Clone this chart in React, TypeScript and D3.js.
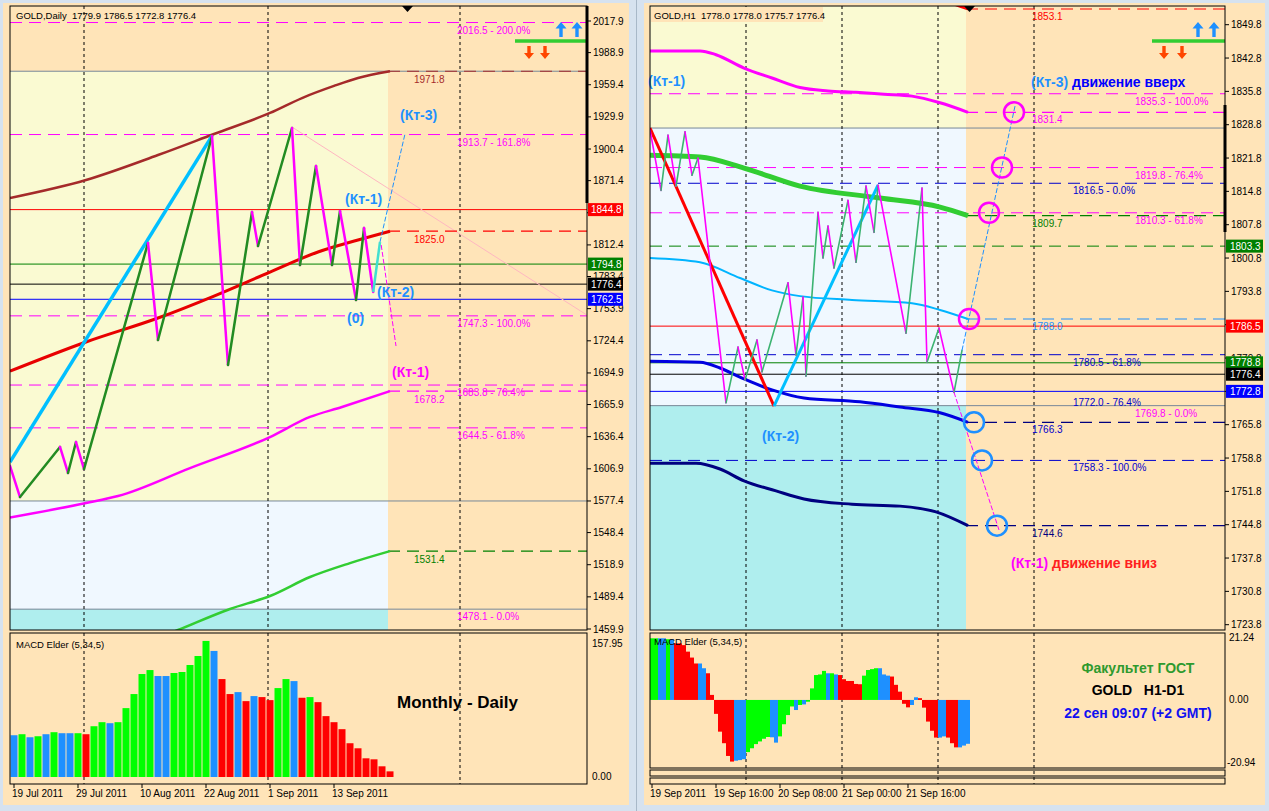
import React from "react";
import * as d3 from "d3";

// ================= LEFT : GOLD Daily =================
const leftTicks = [2017.9, 1988.9, 1959.4, 1929.9, 1900.4, 1871.4, 1841.9, 1812.4, 1783.4, 1753.9, 1724.4, 1694.9, 1665.9, 1636.4, 1606.9, 1577.4, 1548.4, 1518.9, 1489.4, 1459.9];
const leftDates = ["19 Jul 2011", "29 Jul 2011", "10 Aug 2011", "22 Aug 2011", "1 Sep 2011", "13 Sep 2011"];
const leftDateBars = [0, 8, 16, 24, 32, 40];
const leftSeparators = [8.75, 31.75, 55.75];
const leftMacd = [
  49.6, 50.8, 47.2, 48.4, 50.8, 53.2, 52.0, 52.0, 52.0, 50.8,
  60.3, 65.1, 63.9, 65.1, 81.8, 98.5, 122.3, 127.0, 119.9, 119.9,
  123.5, 124.7, 133.0, 143.7, 161.6, 149.7, 116.3, 98.5, 100.8, 90.1,
  96.1, 94.9, 91.3, 105.6, 116.3, 113.9, 94.1, 94.9, 88.9, 72.3,
  65.1, 56.8, 40.1, 34.1, 22.2, 21.0, 12.7, 6.7,
];
const leftMacdColors = "bgbgbgbbgrggbgggggbbgggggbrrbrbrrggbrgrrrrrrrrrr";
const leftMaBrown = [[-0.5, 1855.5], [9, 1872.0], [18, 1894.9], [25, 1914.2], [32, 1933.5], [36, 1947.2], [40, 1958.3], [43, 1965.6], [47, 1971.8]];
const leftMaRed = [[-0.5, 1696.5], [9, 1723.3], [18, 1745.3], [25, 1765.5], [32, 1787.5], [38, 1805.9], [43, 1816.9], [47, 1825.0]];
const leftMaMagenta = [[-0.5, 1562.2], [9, 1575.5], [13, 1581.9], [22, 1607.6], [32, 1636.1], [37, 1654.5], [41, 1663.7], [47, 1678.2]];
const leftMaGreen = [[14, 1440.0], [20.5, 1459.0], [27, 1478.3], [32, 1490.2], [37, 1507.6], [42, 1520.4], [47, 1531.4]];
const leftTrendCyan = [[-0.5, 1613.2], [24.75, 1912.4]];
const leftZigzag = [
  [-0.5, 1609.5], [0.75, 1581.0], [5.75, 1627.0], [6.75, 1603.1], [7.75, 1631.5], [8.75, 1606.7],
  [16.75, 1814.2], [18, 1725.1], [24.75, 1912.4], [26.75, 1702.2], [29.75, 1842.6], [30.5, 1811.4],
  [34.75, 1919.7], [35.75, 1793.9], [37.75, 1884.8], [39.75, 1793.9], [40.75, 1843.5], [42.75, 1761.8],
  [43.75, 1827.9], [44.9, 1769.2],
];
const leftKt2Leg = [[44.9, 1769.2], [45.75, 1815.1]];
const leftProjUp = [[45.75, 1815.1], [48.9, 1915.1]];
const leftProjDown = [[45.9, 1812.3], [47.75, 1719.6]];
const leftPinkRay = [[34.75, 1920.6], [71.6, 1748.1]];
const leftFibLines = [2016.5, 1913.7, 1747.3, 1683.8, 1644.5];
const leftFibLabelPrices = [2016.5, 1913.7, 1747.3, 1683.8, 1644.5, 1478.1];
const leftFibPct = ["200.0%", "161.8%", "100.0%", "76.4%", "61.8%", "0.0%"];
const leftZoneEdges = [1971.8, 1577.4, 1478.1];
const leftMarks = [1844.8, 1794.8, 1776.4, 1762.5];
const leftMarkColors = ["#FF0000", "#008000", "#000000", "#0000FF"];
const leftMacdTicks = [157.95, 0.0];

// ================= RIGHT : GOLD H1 =================
const rightTicks = [1849.8, 1842.8, 1835.8, 1828.8, 1821.8, 1814.8, 1807.8, 1800.8, 1793.8, 1786.8, 1779.8, 1772.8, 1765.8, 1758.8, 1751.8, 1744.8, 1737.8, 1730.8, 1723.8];
const rightDates = ["19 Sep 2011", "19 Sep 16:00", "20 Sep 08:00", "21 Sep 00:00", "21 Sep 16:00"];
const rightDateBars = [0, 16, 32, 48, 64];
const rightSeparators = [23.5, 47.5, 71.5, 95.5];
const rightMacd = [
  20.8, 20.8, 20.8, 20.8, 20.5, 20.5, 19.1, 19.1, 18.5, 16.3,
  14.3, 12.3, 12.3, 10.7, 9.0, 1.7, -4.7, -10.7, -14.6, -18.9,
  -20.8, -20.5, -20.3, -20.0, -17.6, -16.3, -14.9, -14.0, -13.1, -12.5,
  -12.6, -14.4, -12.3, -8.2, -5.1, -2.2, -3.4, -1.7, -1.5, -0.6,
  3.9, 8.4, 8.6, 9.8, 9.0, 9.0, 8.6, 8.4, 7.0, 6.4,
  6.4, 5.4, 5.3, 8.2, 10.1, 10.4, 10.7, 10.7, 8.6, 8.2,
  7.9, 5.1, 2.8, -1.3, -2.5, -1.7, 0.9, 0.6, -2.6, -7.3,
  -10.4, -12.7, -12.7, -12.3, -12.7, -14.6, -16.0, -16.0, -15.4, -14.8,
];
const rightMacdColors = "ggbbgbrrrrrrbbrrrrrrrbbbggggggbbggggbgbgggggbgbrrrrrrggggbbbrrrrrbbrrrrrbbrrrbbb";
const rightMacdTicks = [21.24, 0.0, -20.94];
const rightMaRed = [[60, 1860.0], [70, 1856.0], [75, 1854.3], [79, 1853.1]];
const rightMaMagenta = [[-0.5, 1844.3], [12, 1844.3], [16, 1843.5], [23, 1840.7], [30, 1838.6], [37, 1836.6], [44, 1835.9], [51, 1835.6], [58, 1835.2], [65, 1834.8], [72, 1833.4], [79, 1831.4]];
const rightMaGreen = [[-0.5, 1822.4], [12, 1822.0], [23, 1819.7], [37, 1815.9], [57, 1813.4], [72, 1811.5], [79, 1809.7]];
const rightMaSky = [[-0.5, 1800.8], [12, 1799.9], [22, 1796.6], [30, 1794.0], [37, 1792.8], [50, 1792.0], [65, 1791.3], [72, 1789.9], [79, 1788.0]];
const rightMaBlue = [[-0.5, 1779.1], [12, 1778.9], [17, 1777.7], [23, 1775.4], [30, 1773.1], [38, 1771.4], [52, 1770.6], [62, 1769.5], [72, 1768.3], [79, 1766.3]];
const rightMaNavy = [[-0.5, 1757.7], [11, 1757.7], [17, 1756.5], [23, 1754.0], [31, 1751.9], [38, 1750.2], [50, 1749.1], [62, 1748.7], [71, 1747.5], [79, 1744.6]];
const rightTrendRed = [[-0.5, 1828.1], [30.5, 1769.7]];
const rightTrendCyan = [[30.5, 1769.7], [56.5, 1816.1]];
const rightZigzag = [
  [-0.5, 1827.7], [2.25, 1815.0], [4, 1826.6], [6, 1815.9], [8.25, 1827.3], [10, 1818.2], [11.5, 1821.8],
  [18.5, 1770.4], [21.5, 1782.1], [23.25, 1775.2], [26.25, 1783.6], [27.5, 1776.9], [34, 1795.6], [36, 1780.4],
  [37.75, 1792.6], [38.5, 1776.0], [41.5, 1810.4], [42.75, 1800.8], [44, 1807.5], [45.5, 1798.7], [49, 1812.9],
  [51, 1799.9], [53.5, 1815.9], [55.5, 1806.2], [56.5, 1816.1], [63.5, 1785.0], [67.5, 1815.5], [68.75, 1778.9],
  [71.75, 1786.1], [75.5, 1772.6], [77.5, 1781.4],
];
const rightProjUp = [[77.5, 1781.4], [90.75, 1832.7]];
const rightProjDown = [[75.5, 1772.6], [86.75, 1743.7]];
const rightUpCircleBars = [90.5, 87.5, 84.25, 79.25];
const rightUpCirclePrices = [1831.4, 1819.8, 1810.3, 1788.0];
const rightDownCircleBars = [80.5, 82.5, 86.25];
const rightDownCirclePrices = [1766.3, 1758.3, 1744.6];
const rightMagFibPrices = [1835.3, 1819.8, 1810.3, 1769.8];
const rightMagFibPct = ["100.0%", "76.4%", "61.8%", "0.0%"];
const rightMagFibLines = [1835.3, 1819.8, 1810.3];
const rightBlueFibPrices = [1816.5, 1780.5, 1772.0, 1758.3];
const rightBlueFibPct = ["0.0%", "61.8%", "76.4%", "100.0%"];
const rightBlueFibLines = [1816.5, 1780.5, 1758.3];
const rightZoneEdges = [1828.1, 1769.8];
const rightMarks = [1803.3, 1786.5, 1778.8, 1776.4, 1772.8];
const rightMarkColors = ["#008000", "#FF0000", "#008000", "#000000", "#0000FF"];
const rightMarkDashed = [1803.3];

const PEACH = "#FFE4B8";
const YELLOW = "#FAFAD2";
const ALICE = "#F0F8FF";
const TURQ = "#AFEEEE";
const ZONE_LINE = "#778899";
const FONT = "'Liberation Sans', Arial, Helvetica, sans-serif";
const DASH = "12,7";
const MACD_COL: Record<string, string> = { g: "#00FF00", b: "#1E90FF", r: "#FF0000" };
const PRE: React.CSSProperties = { whiteSpace: "pre" };

type P = number[];

function Zig({ pts, x, y, up, down, w }: { pts: P[]; x: any; y: any; up: string; down: string; w: number }) {
  return (
    <g>
      {pts.slice(1).map((p, k) => {
        const a = pts[k];
        const isUp = p[1] > a[1];
        return (
          <line key={k} x1={x(a[0])} y1={y(a[1])} x2={x(p[0])} y2={y(p[1])}
            stroke={isUp ? up : down} strokeWidth={w} strokeLinecap="round" />
        );
      })}
    </g>
  );
}

function UpArrow({ cx, top, color }: { cx: number; top: number; color: string }) {
  const d = `M${cx},${top} L${cx + 5.5},${top + 6.5} L${cx + 1.7},${top + 6.5} L${cx + 1.7},${top + 15} L${cx - 1.7},${top + 15} L${cx - 1.7},${top + 6.5} L${cx - 5.5},${top + 6.5} Z`;
  return <path d={d} fill={color} />;
}
function DownArrow({ cx, top, color }: { cx: number; top: number; color: string }) {
  const b = top + 13;
  const d = `M${cx},${b} L${cx + 5},${b - 6} L${cx + 1.7},${b - 6} L${cx + 1.7},${top} L${cx - 1.7},${top} L${cx - 1.7},${b - 6} L${cx - 5},${b - 6} Z`;
  return <path d={d} fill={color} />;
}

export default function App() {
  const TOP = 6;
  const LX0 = 10, LX1 = 587, LBOT = 630, LMTOP = 633, LMBOT = 784, LNOW = 388;
  const RX0 = 650, RX1 = 1225, RBOT = 630, RMTOP = 633, RMBOT = 768, RNOW = 966;

  const yL = d3.scaleLinear().domain([1459.9, 2017.9]).range([629, 21]);
  const xL = d3.scaleLinear().domain([0, 1]).range([14, 22]);
  const yR = d3.scaleLinear().domain([1723.8, 1849.8]).range([624.7, 24.7]);
  const xR = d3.scaleLinear().domain([0, 1]).range([652, 656]);
  const mL = d3.scaleLinear().domain([0, 157.95]).range([777, 644]);
  const mR = d3.scaleLinear().domain([-20.94, 21.24]).range([762, 637]);

  const lineL = d3.line<P>().x((d) => xL(d[0])).y((d) => yL(d[1])).curve(d3.curveMonotoneX);
  const lineR = d3.line<P>().x((d) => xR(d[0])).y((d) => yR(d[1])).curve(d3.curveMonotoneX);
  const segL = d3.line<P>().x((d) => xL(d[0])).y((d) => yL(d[1]));
  const segR = d3.line<P>().x((d) => xR(d[0])).y((d) => yR(d[1]));

  const leftMAs = [
    { data: leftMaBrown, color: "#A52A2A", w: 2.5 },
    { data: leftMaRed, color: "#E80000", w: 3 },
    { data: leftMaMagenta, color: "#FF00FF", w: 2.5 },
    { data: leftMaGreen, color: "#32CD32", w: 2.5 },
  ];
  const leftMaLabelColors = ["#A52A2A", "#FF0000", "#FF00FF", "#008000"];
  const rightMAs = [
    { data: rightMaRed, color: "#FF0000", w: 3, lab: "#FF0000" },
    { data: rightMaMagenta, color: "#FF00FF", w: 3, lab: "#FF00FF" },
    { data: rightMaGreen, color: "#32CD32", w: 5, lab: "#008000" },
    { data: rightMaSky, color: "#00B4FF", w: 2, lab: "#1E90FF" },
    { data: rightMaBlue, color: "#0000E0", w: 3, lab: "#0000CD" },
    { data: rightMaNavy, color: "#000080", w: 3, lab: "#000080" },
  ];
  const rightMaLineColors = ["#FF0000", "#FF00FF", "#008000", "#1E90FF", "#000080", "#000080"];

  const lz = leftZoneEdges.map((p) => yL(p));
  const rz = rightZoneEdges.map((p) => yR(p));

  return (
    <svg width={1269} height={811} style={{ position: "absolute", left: 0, top: 0, display: "block" }} fontFamily={FONT}>
      <defs>
        <clipPath id="clipL"><rect x={LX0} y={TOP} width={LX1 - LX0} height={LBOT - TOP} /></clipPath>
        <clipPath id="clipR"><rect x={RX0} y={TOP} width={RX1 - RX0} height={RBOT - TOP} /></clipPath>
      </defs>
      <rect x={0} y={0} width={1269} height={811} fill="#D6E2EF" />
      <rect x={3} y={3} width={626} height={802} fill={PEACH} />
      <rect x={644} y={3} width={621} height={802} fill={PEACH} />
      <line x1={636.5} x2={636.5} y1={0} y2={811} stroke="#A8B8C8" />

      {/* ================= LEFT MAIN ================= */}
      <g clipPath="url(#clipL)">
        <rect x={LX0} y={lz[0]} width={LNOW - LX0} height={lz[1] - lz[0]} fill={YELLOW} />
        <rect x={LX0} y={lz[1]} width={LNOW - LX0} height={lz[2] - lz[1]} fill={ALICE} />
        <rect x={LX0} y={lz[2]} width={LNOW - LX0} height={LBOT - lz[2]} fill={TURQ} />
        {lz.map((y, k) => <line key={k} x1={LX0} x2={LX1} y1={y} y2={y} stroke={ZONE_LINE} strokeWidth={1} />)}
        {leftSeparators.map((s, k) => (
          <line key={k} x1={xL(s)} x2={xL(s)} y1={TOP} y2={LBOT} stroke="#000" strokeDasharray="3,3" />
        ))}
        {leftFibLines.map((p, k) => (
          <line key={k} x1={LX0} x2={LX1} y1={yL(p)} y2={yL(p)} stroke="#FF00FF" strokeDasharray={DASH} />
        ))}
        {leftMarks.map((p, k) => (
          <line key={k} x1={LX0} x2={LX1} y1={yL(p)} y2={yL(p)} stroke={leftMarkColors[k]} strokeWidth={1} />
        ))}
        <path d={segL(leftPinkRay) || ""} stroke="#FFB6C1" strokeWidth={1} fill="none" />
        {leftMAs.map((m, k) => {
          const last = m.data[m.data.length - 1];
          return (
            <g key={k}>
              <line x1={LNOW} x2={LX1} y1={yL(last[1])} y2={yL(last[1])} stroke={leftMaLabelColors[k]} strokeWidth={1.2} strokeDasharray={DASH} />
              <path d={lineL(m.data) || ""} stroke={m.color} strokeWidth={m.w} fill="none" />
            </g>
          );
        })}
        <path d={segL(leftTrendCyan) || ""} stroke="#00BFFF" strokeWidth={3.5} fill="none" />
        <Zig pts={leftZigzag} x={xL} y={yL} up="#228B22" down="#FF00FF" w={2.5} />
        <path d={segL(leftKt2Leg) || ""} stroke="#40E0D0" strokeWidth={2.5} fill="none" />
        <path d={segL(leftProjUp) || ""} stroke="#1E90FF" strokeWidth={1} strokeDasharray="5,2" fill="none" />
        <path d={segL(leftProjDown) || ""} stroke="#FF00FF" strokeWidth={1} strokeDasharray="5,2" fill="none" />
      </g>
      {leftFibLabelPrices.map((p, k) => (
        <text key={k} x={457} y={yL(p) + 11} fontSize={10} fill="#FF00FF">{`${p.toFixed(1)} - ${leftFibPct[k]}`}</text>
      ))}
      {leftMAs.map((m, k) => {
        const last = m.data[m.data.length - 1];
        return <text key={k} x={414} y={yL(last[1]) + 12} fontSize={10} fill={leftMaLabelColors[k]}>{last[1].toFixed(1)}</text>;
      })}
      <text x={16} y={19} fontSize={9.5} fill="#000" style={PRE}>{"GOLD,Daily  1779.9 1786.5 1772.8 1776.4"}</text>
      <g fontWeight="bold" fontSize={14}>
        <text x={400} y={120} fill="#1E90FF">(Кт-3)</text>
        <text x={345} y={204} fill="#1E90FF">(Кт-1)</text>
        <text x={377} y={297} fill="#1E90FF">(Кт-2)</text>
        <text x={347} y={323} fill="#1E90FF">(0)</text>
        <text x={392} y={377} fill="#FF00FF">(Кт-1)</text>
      </g>
      <path d={`M${LNOW + 14},6 L${LNOW + 25},6 L${LNOW + 19.5},12 Z`} fill="#000" />
      <line x1={515} x2={LX1} y1={41} y2={41} stroke="#32CD32" strokeWidth={3.5} />
      <UpArrow cx={561} top={22} color="#1E90FF" />
      <UpArrow cx={577} top={22} color="#1E90FF" />
      <DownArrow cx={529} top={46} color="#FF4500" />
      <DownArrow cx={545} top={46} color="#FF4500" />
      <rect x={LX0} y={TOP} width={LX1 - LX0} height={LBOT - TOP} fill="none" stroke="#000" />
      <line x1={LX1} x2={LX1} y1={TOP} y2={203} stroke="#000" strokeWidth={3} />
      {leftTicks.map((t, k) => (
        <g key={k}>
          <line x1={LX1} x2={LX1 + 4} y1={yL(t)} y2={yL(t)} stroke="#000" />
          <text x={LX1 + 6} y={yL(t) + 3.5} fontSize={10} fill="#000">{t.toFixed(1)}</text>
        </g>
      ))}
      {leftMarks.map((p, k) => (
        <g key={k}>
          <rect x={LX1 + 1} y={yL(p) - 6.5} width={35} height={13} fill={leftMarkColors[k]} />
          <text x={LX1 + 4} y={yL(p) + 3.5} fontSize={10} fill="#fff">{p.toFixed(1)}</text>
        </g>
      ))}

      {/* ================= LEFT MACD ================= */}
      {leftSeparators.map((s, k) => (
        <line key={k} x1={xL(s)} x2={xL(s)} y1={LMTOP} y2={LMBOT} stroke="#000" strokeDasharray="3,3" />
      ))}
      {leftMacd.map((v, i) => (
        <rect key={i} x={xL(i) - 3.5} y={mL(v)} width={7} height={mL(0) - mL(v)} fill={MACD_COL[leftMacdColors[i]]} />
      ))}
      <rect x={LX0} y={LMTOP} width={LX1 - LX0} height={LMBOT - LMTOP} fill="none" stroke="#000" />
      <text x={16} y={648} fontSize={9.5} fill="#000">MACD Elder (5,34,5)</text>
      {leftMacdTicks.map((t, k) => (
        <text key={k} x={592} y={mL(t) + 3} fontSize={10} fill="#000">{t.toFixed(2)}</text>
      ))}
      <text x={397} y={708} fontSize={17} fontWeight="bold" fill="#000">Monthly - Daily</text>
      {leftDateBars.map((b, k) => (
        <g key={k}>
          <line x1={xL(b)} x2={xL(b)} y1={LMBOT} y2={LMBOT + 4} stroke="#000" />
          <text x={xL(b) - 2} y={797} fontSize={10} fill="#000">{leftDates[k]}</text>
        </g>
      ))}

      {/* ================= RIGHT MAIN ================= */}
      <g clipPath="url(#clipR)">
        <rect x={RX0} y={TOP} width={RNOW - RX0} height={rz[0] - TOP} fill={YELLOW} />
        <rect x={RX0} y={rz[0]} width={RNOW - RX0} height={rz[1] - rz[0]} fill={ALICE} />
        <rect x={RX0} y={rz[1]} width={RNOW - RX0} height={RBOT - rz[1]} fill={TURQ} />
        {rz.map((y, k) => <line key={k} x1={RX0} x2={RX1} y1={y} y2={y} stroke={ZONE_LINE} />)}
        {rightSeparators.map((s, k) => (
          <line key={k} x1={xR(s)} x2={xR(s)} y1={TOP} y2={RBOT} stroke="#000" strokeDasharray="3,3" />
        ))}
        {rightMagFibLines.map((p, k) => (
          <line key={k} x1={RX0} x2={RX1} y1={yR(p)} y2={yR(p)} stroke="#FF00FF" strokeDasharray={DASH} />
        ))}
        {rightBlueFibLines.map((p, k) => (
          <line key={k} x1={RX0} x2={RX1} y1={yR(p)} y2={yR(p)} stroke="#0000CD" strokeDasharray={DASH} />
        ))}
        {rightMarks.map((p, k) => (
          <line key={k} x1={RX0} x2={RX1} y1={yR(p)} y2={yR(p)} stroke={rightMarkColors[k]}
            strokeDasharray={rightMarkDashed.includes(p) ? DASH : undefined} />
        ))}
        {rightMAs.map((m, k) => {
          const last = m.data[m.data.length - 1];
          return (
            <g key={k}>
              <line x1={RNOW} x2={RX1} y1={yR(last[1])} y2={yR(last[1])} stroke={rightMaLineColors[k]} strokeWidth={1.2} strokeDasharray={DASH} />
              <path d={lineR(m.data) || ""} stroke={m.color} strokeWidth={m.w} fill="none" />
            </g>
          );
        })}
        <path d={segR(rightTrendRed) || ""} stroke="#FF0000" strokeWidth={3} fill="none" />
        <path d={segR(rightTrendCyan) || ""} stroke="#00BFFF" strokeWidth={3} fill="none" />
        <Zig pts={rightZigzag} x={xR} y={yR} up="#3CB371" down="#FF00FF" w={1.6} />
        <path d={segR(rightProjUp) || ""} stroke="#1E90FF" strokeWidth={1} strokeDasharray="5,2" fill="none" />
        <path d={segR(rightProjDown) || ""} stroke="#FF00FF" strokeWidth={1} strokeDasharray="5,2" fill="none" />
        {rightUpCirclePrices.map((p, k) => (
          <circle key={k} cx={xR(rightUpCircleBars[k])} cy={yR(p)} r={10} fill="none" stroke="#FF00FF" strokeWidth={2.5} />
        ))}
        {rightDownCirclePrices.map((p, k) => (
          <circle key={k} cx={xR(rightDownCircleBars[k])} cy={yR(p)} r={10} fill="none" stroke="#1E90FF" strokeWidth={2.5} />
        ))}
      </g>
      {rightMagFibPrices.map((p, k) => (
        <text key={k} x={1135} y={yR(p) + 11} fontSize={10} fill="#FF00FF">{`${p.toFixed(1)} - ${rightMagFibPct[k]}`}</text>
      ))}
      {rightBlueFibPrices.map((p, k) => (
        <text key={k} x={1073} y={yR(p) + 11} fontSize={10} fill="#0000CD">{`${p.toFixed(1)} - ${rightBlueFibPct[k]}`}</text>
      ))}
      {rightMAs.map((m, k) => {
        const last = m.data[m.data.length - 1];
        return <text key={k} x={1032} y={yR(last[1]) + 11} fontSize={10} fill={m.lab}>{last[1].toFixed(1)}</text>;
      })}
      <rect x={651} y={7} width={172} height={15} fill={PEACH} />
      <text x={654} y={19} fontSize={9.5} fill="#000" style={PRE}>{"GOLD,H1  1778.0 1778.0 1775.7 1776.4"}</text>
      <g fontWeight="bold" fontSize={14}>
        <text x={648} y={86} fill="#1E90FF">(Кт-1)</text>
        <text x={1031} y={87}><tspan fill="#1E90FF">(Кт-3)</tspan><tspan fill="#0000FF"> движение вверх</tspan></text>
        <text x={762} y={441} fill="#1E90FF">(Кт-2)</text>
        <text x={1011} y={568}><tspan fill="#FF00FF">(Кт-1)</tspan><tspan fill="#FF2020"> движение вниз</tspan></text>
      </g>
      <path d={`M${RNOW - 2},6 L${RNOW + 9},6 L${RNOW + 3.5},12 Z`} fill="#000" />
      <line x1={1152} x2={RX1} y1={41} y2={41} stroke="#32CD32" strokeWidth={3.5} />
      <UpArrow cx={1198} top={22} color="#1E90FF" />
      <UpArrow cx={1214} top={22} color="#1E90FF" />
      <DownArrow cx={1164} top={46} color="#FF4500" />
      <DownArrow cx={1182} top={46} color="#FF4500" />
      <rect x={RX0} y={TOP} width={RX1 - RX0} height={RBOT - TOP} fill="none" stroke="#000" />
      <line x1={RX1} x2={RX1} y1={105} y2={232} stroke="#000" strokeWidth={3} />
      {rightTicks.map((t, k) => (
        <g key={k}>
          <line x1={RX1} x2={RX1 + 4} y1={yR(t)} y2={yR(t)} stroke="#000" />
          <text x={RX1 + 6} y={yR(t) + 3.5} fontSize={10} fill="#000">{t.toFixed(1)}</text>
        </g>
      ))}
      {rightMarks.map((p, k) => (
        <g key={k}>
          <rect x={RX1 + 1} y={yR(p) - 6.5} width={37} height={13} fill={rightMarkColors[k]} />
          <text x={RX1 + 5} y={yR(p) + 3.5} fontSize={10} fill="#fff">{p.toFixed(1)}</text>
        </g>
      ))}

      {/* ================= RIGHT MACD ================= */}
      {rightSeparators.map((s, k) => (
        <line key={k} x1={xR(s)} x2={xR(s)} y1={RMTOP} y2={784} stroke="#000" strokeDasharray="3,3" />
      ))}
      {rightMacd.map((v, i) => (
        <rect key={i} x={xR(i) - 2} y={Math.min(mR(v), mR(0))} width={4} height={Math.abs(mR(0) - mR(v))} fill={MACD_COL[rightMacdColors[i]]} />
      ))}
      <rect x={RX0} y={RMTOP} width={RX1 - RX0} height={RMBOT - RMTOP} fill="none" stroke="#000" />
      <rect x={RX0} y={770} width={RX1 - RX0} height={6} fill="none" stroke="#000" />
      <rect x={RX0} y={778} width={RX1 - RX0} height={6} fill="none" stroke="#000" />
      <text x={654} y={645} fontSize={9.5} fill="#000">MACD Elder (5,34,5)</text>
      {rightMacdTicks.map((t, k) => (
        <text key={k} x={t < 0 ? 1227 : 1229} y={mR(t) + 3.5} fontSize={10} fill="#000">{t.toFixed(2)}</text>
      ))}
      <g fontWeight="bold" fontSize={14} textAnchor="middle">
        <text x={1138} y={673} fill="#2E9A2E">Факультет ГОСТ</text>
        <text x={1138} y={695} fill="#000" style={PRE}>{"GOLD   H1-D1"}</text>
        <text x={1138} y={718} fill="#1010F0">22 сен 09:07 (+2 GMT)</text>
      </g>
      {rightDateBars.map((b, k) => (
        <g key={k}>
          <line x1={xR(b)} x2={xR(b)} y1={784} y2={788} stroke="#000" />
          <text x={xR(b) - 2} y={797} fontSize={10} fill="#000">{rightDates[k]}</text>
        </g>
      ))}
    </svg>
  );
}
